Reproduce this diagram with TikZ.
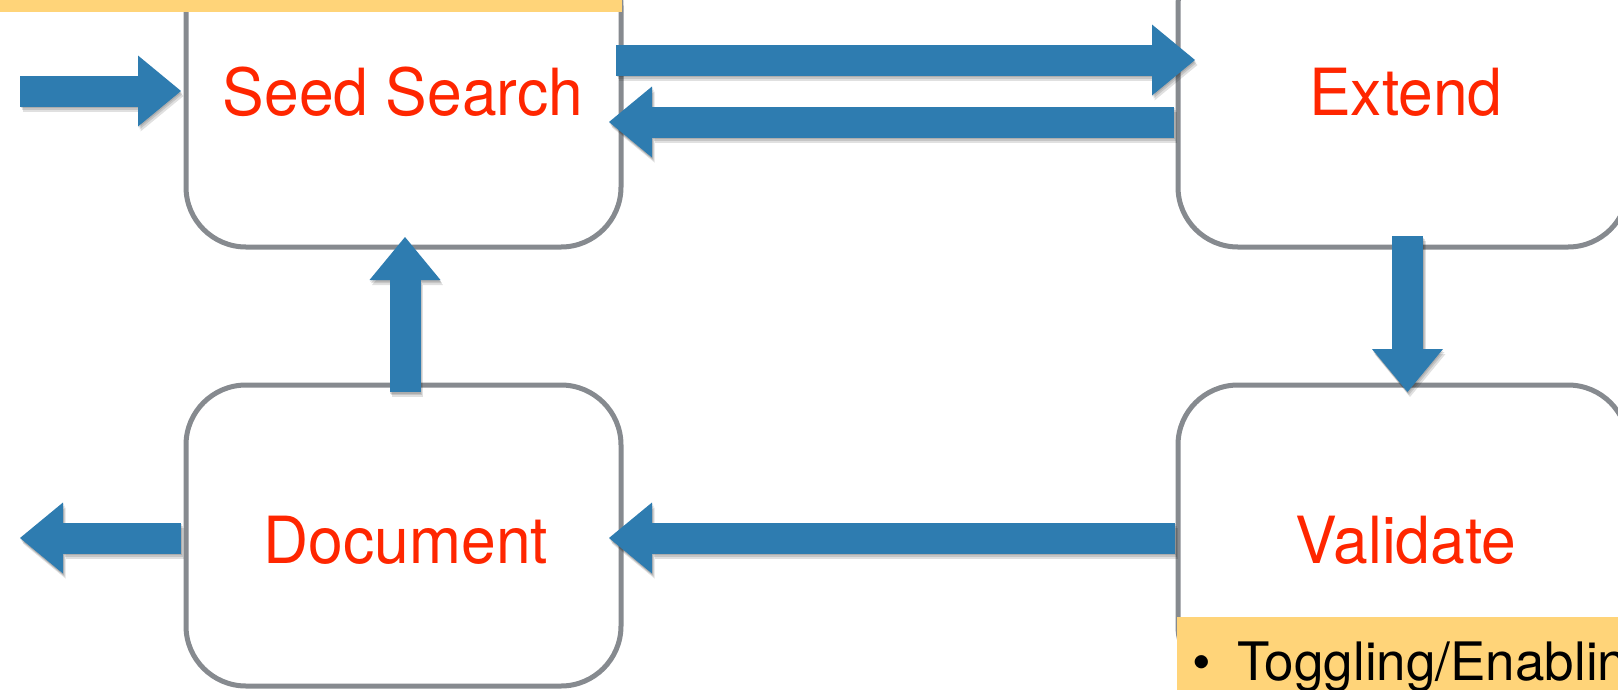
\documentclass[tikz,border=0pt]{standalone}
\usepackage{fontspec}
\setmainfont{TeX Gyre Heros}
\newfontfamily\lblfont{TeX Gyre Heros}[FakeStretch=0.96]
\usetikzlibrary{arrows.meta,calc}
\definecolor{boxgray}{RGB}{134,138,143}
\definecolor{lblred}{RGB}{255,38,0}
\definecolor{arrblue}{RGB}{46,124,176}
\definecolor{bandyellow}{RGB}{255,212,121}
\newcommand\blockarrow[2]{%
  \draw[arrshadow, transform canvas={shift={(0.5pt,-1.5pt)}}] #1 -- #2;
  \draw[arrshadow, transform canvas={shift={(1.5pt,-3pt)}}] #1 -- #2;
  \draw[arrshadow, transform canvas={shift={(2.5pt,-5pt)}}] #1 -- #2;
  \draw[arr] #1 -- #2;}
\begin{document}
\begin{tikzpicture}[x=1pt,y=-1pt,
  box/.style={draw=boxgray, line width=5pt, rounded corners=60pt, fill=white, inner sep=0pt, outer sep=0pt},
  lbl/.style={text=lblred, font=\lblfont\fontsize{65}{65}\selectfont, anchor=base, inner sep=0pt},
  note/.style={text=black, font=\fontsize{53}{53}\selectfont, anchor=base, inner sep=0pt},
  arr/.style={draw=arrblue, line width=31pt, -{Triangle[width=71pt,length=43pt,line width=0pt]}},
  arrshadow/.style={draw=black, opacity=0.12, line width=31pt, -{Triangle[width=71pt,length=43pt,line width=0pt]}},
  band/.style={fill=bandyellow, draw=none}]
\path[use as bounding box] (0,0) rectangle (1618,689);
\clip (0,0) rectangle (1618,689);
% boxes
\node[box, minimum width=435pt, minimum height=301pt] (seed) at (403.5,96.5) {};
\node[box, minimum width=450pt, minimum height=301pt] (extend) at (1403,96.5) {};
\node[box, minimum width=450pt, minimum height=301pt] (validate) at (1403,535.5) {};
\node[box, minimum width=435pt, minimum height=301pt] (document) at (403.5,535.5) {};
% labels
\node[lbl] (seedlbl) at (403,115) {Seed Search};
\node[lbl] (extendlbl) at (1406,115) {Extend};
\node[lbl] (validatelbl) at (1406,563) {Validate};
\node[lbl] (documentlbl) at (406,563) {Document};
% free ends
\coordinate (src) at (20,91);
\coordinate (sink) at (20,538);
% arrows
\blockarrow{(src)}{($(seed.west)+(-5,-5.5)$)}
\blockarrow{($(seed.east)+(-5,-36.5)$)}{($(extend.west)+(17,-36.5)$)}
\blockarrow{($(extend.west)+(-4,25.5)$)}{($(seed.east)+(-12,25.5)$)}
\blockarrow{($(extend.south)+(4.5,-11)$)}{($(validate.north)+(4.5,7)$)}
\blockarrow{($(validate.west)+(-3,2.5)$)}{($(document.east)+(-12,2.5)$)}
\blockarrow{($(document.north)+(1.5,7)$)}{($(seed.south)+(1.5,-10)$)}
\blockarrow{($(document.west)+(-5,2.5)$)}{(sink)}
% yellow bands
\path[band] (-5,-5) rectangle (622,12);
\path[band] (1177,617) rectangle (1640,700);
\node[note] (bullet) at (1202,680) {•};
\node[note, anchor=base west] (toggle) at (1237,680) {Toggling/Enabling};
\end{tikzpicture}
\end{document}
